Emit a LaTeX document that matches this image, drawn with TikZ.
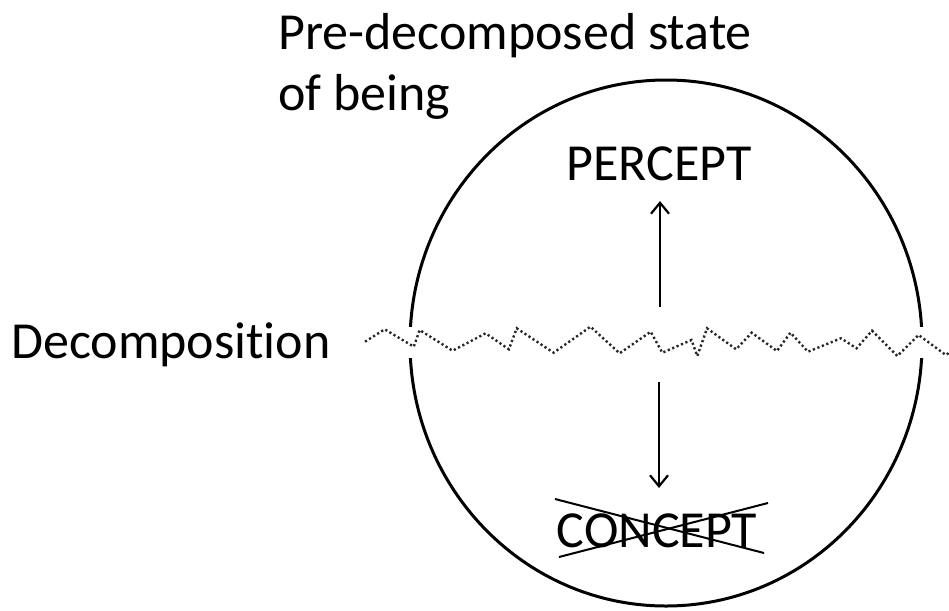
\documentclass[tikz,border=0pt]{standalone}
\usepackage{fontspec}
\setmainfont{Carlito}[Ligatures=NoCommon]
\usetikzlibrary{arrows.meta}
\begin{document}
\begin{tikzpicture}[x=1pt,y=-1pt,
  bigtext/.style={inner sep=0pt,font=\fontsize{52}{60}\selectfont},
  titletext/.style={inner sep=0pt,font=\fontsize{52}{61}\selectfont,align=left},
  ring/.style={line width=3pt},
  updown/.style={line width=2.2pt,-{Straight Barb[length=11pt,width=18pt,line width=2.2pt]}},
  wave/.style={line width=2.4pt,dash pattern=on 2.2pt off 2.6pt,black!85},
  strike/.style={line width=2pt}]
\useasboundingbox (0,0) rectangle (949,610);
% circle
\draw[ring] (666,343) ellipse [x radius=256pt, y radius=263pt];
\fill[white] (398,327) rectangle (424,358);
\fill[white] (908,327) rectangle (934,358);
% texts
\node[titletext,anchor=base west] (title1) at (278,49) {Pre-decomposed state};
\node[titletext,anchor=base west] (title2) at (278,110) {of being};
\node[bigtext,anchor=base west] (decomp) at (11,358) {Decomposition};
\node[bigtext,anchor=base] (percept) at (659,180) {PERCEPT};
\node[bigtext,anchor=base] (concept) at (657,547) {CONCEPT};
% arrows
\coordinate (uptail) at (660,307);
\coordinate (uptip) at (660,201);
\coordinate (dntail) at (659,382);
\coordinate (dntip) at (659,488);
\draw[updown] (uptail) -- (uptip);
\draw[updown] (dntail) -- (dntip);
% strike-through
\coordinate (s1a) at (555,499);
\coordinate (s1b) at (764,553);
\coordinate (s2a) at (559,557);
\coordinate (s2b) at (768,503);
\draw[strike] (s1a) -- (s1b);
\draw[strike] (s2a) -- (s2b);
% wavy decomposition line
\draw[wave] (365,341.7) -- (384.7,329.3) -- (413.8,346.7) -- (419.6,330) -- (452.6,350.7)
  -- (485.6,333.3) -- (508.9,349.3) -- (516.7,328.3) -- (553.6,352.7) -- (590.5,326.7)
  -- (619.6,353.3) -- (650.7,331.7) -- (662.3,352.7) -- (691.5,340) -- (697.3,356)
  -- (707,328.3) -- (736.1,349.3) -- (751.7,332.7) -- (776.9,351) -- (790.5,332.7)
  -- (808,351.7) -- (841,338.3) -- (856.5,348.3) -- (872,330.7) -- (897.3,356)
  -- (918.6,335) -- (945.8,355) -- (952,351);
\end{tikzpicture}
\end{document}
